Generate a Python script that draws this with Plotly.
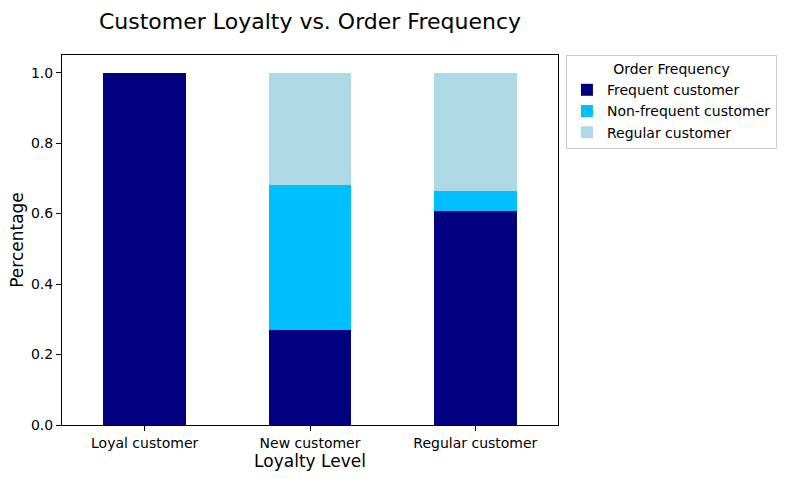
import plotly.graph_objects as go

categories = ["Loyal customer", "New customer", "Regular customer"]
frequent = [1.0, 0.270, 0.608]
non_frequent = [0.0, 0.412, 0.057]
regular = [0.0, 0.318, 0.335]

series = [
    ("Frequent customer", frequent, "#000080"),
    ("Non-frequent customer", non_frequent, "#00BFFF"),
    ("Regular customer", regular, "#ADD8E6"),
]

fig = go.Figure()
for name, vals, color in series:
    fig.add_trace(go.Bar(x=categories, y=vals, name=name, width=0.5,
                         marker=dict(color=color, line=dict(width=0))))

W, H = 786, 479
fig.update_layout(
    width=W, height=H,
    barmode="stack",
    plot_bgcolor="white", paper_bgcolor="white",
    font=dict(family="DejaVu Sans", size=14, color="black"),
    margin=dict(l=62, r=228, t=55, b=54, autoexpand=False),
    title=dict(text="Customer Loyalty vs. Order Frequency", x=0.5, xref="paper",
               y=1 - 21 / H, yref="container", yanchor="middle", xanchor="center",
               font=dict(size=22, color="black")),
    legend=dict(x=1.016, y=1.0, xanchor="left", yanchor="top",
                bordercolor="#cccccc", borderwidth=1, traceorder="normal",
                font=dict(size=14), tracegroupgap=0,
                title=dict(text="Order Frequency", side="top center", font=dict(size=14))),
    showlegend=True,
)
fig.update_xaxes(
    type="category", range=[-0.5, 2.5],
    showline=True, linecolor="black", linewidth=1, mirror=True,
    ticks="outside", ticklen=5, tickcolor="black", tickfont=dict(size=14),
    showgrid=False,
    title=dict(text="Loyalty Level", font=dict(size=17), standoff=5),
)
fig.update_yaxes(
    range=[0, 1.05], tickvals=[0, 0.2, 0.4, 0.6, 0.8, 1.0],
    ticktext=["0.0", "0.2", "0.4", "0.6", "0.8", "1.0"],
    showline=True, linecolor="black", linewidth=1, mirror=True,
    ticks="outside", ticklen=5, tickcolor="black", tickfont=dict(size=14),
    showgrid=False, zeroline=False,
    title=dict(text="Percentage", font=dict(size=17), standoff=2),
)
fig.write_html("out.html")
